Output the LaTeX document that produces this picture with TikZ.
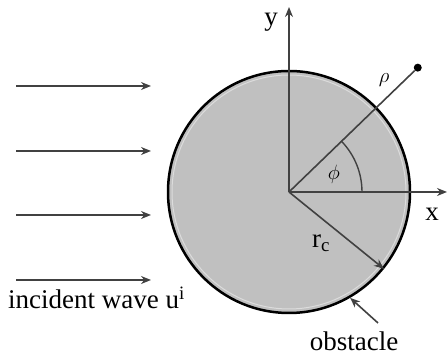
\documentclass[tikz,border=0pt]{standalone}
\usepackage{fontspec}
\setmainfont{Liberation Serif}
\usetikzlibrary{positioning,arrows.meta}
\definecolor{lineGray}{RGB}{65,65,65}
\definecolor{fillGray}{RGB}{192,192,192}
\definecolor{rimGray}{RGB}{220,220,220}

\begin{document}
\begin{tikzpicture}[x=1pt, y=1pt,
    arr/.style={-{Stealth[length=10pt, width=8pt]}, line width=1.6pt, draw=lineGray},
    lbl/.style={font=\fontsize{27}{31}\selectfont, inner sep=0pt},
]
\useasboundingbox (0,0) rectangle (448,358);
\coordinate (O) at (289,166);
\node[circle, draw=black, line width=2.5pt, fill=fillGray, minimum size=242pt, inner sep=0pt] (obst) at (O) {};
\draw[rimGray, line width=1pt] (O) circle (117pt);

% incident wave
\foreach \i/\yy in {1/272,2/207,3/143,4/78} {
  \coordinate (w\i a) at (16,\yy);
  \coordinate (w\i b) at (151,\yy);
  \draw[arr] (w\i a) -- (w\i b);
}
\node[lbl, anchor=base west] (incLbl) at (8,49) {incident wave u\textsuperscript{i}};

% axes
\coordinate (xEnd) at (447,166);
\coordinate (yEnd) at (289,351);
\draw[arr] (O) -- (xEnd);
\draw[arr] (O) -- (yEnd);
\node[lbl] (xLbl) at (432,144) {x};
\node[lbl] (yLbl) at (271,336) {y};

% field point
\node[circle, fill=black, minimum size=8pt, inner sep=0pt] (pt) at ([shift={(44:179)}]O) {};
\draw[lineGray, line width=1.6pt] (O) -- (pt);
\node[font=\fontsize{20}{24}\selectfont] (rho) at (384,278) {$\rho$};
\draw[lineGray, line width=1.4pt] ([shift={(73,0)}]O) arc[start angle=0, end angle=44, radius=73pt];
\node[font=\fontsize{22}{26}\selectfont] (phi) at (334,184) {$\phi$};

% radius
\draw[arr] (O) -- (obst.-39);
\node[lbl] (rcLbl) at (321,115) {r\textsubscript{c}};

% obstacle
\coordinate (obTail) at (378,35);
\draw[arr] (obTail) -- (obst.-60);
\node[lbl, anchor=base] (obLbl) at (354,7) {obstacle};
\end{tikzpicture}
\end{document}
